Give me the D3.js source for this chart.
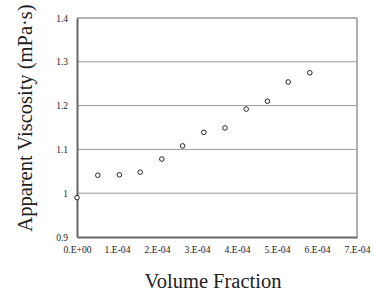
<html>
  <head>
    <meta charset="utf-8" />
    <script src="https://d3js.org/d3.v7.min.js"></script>
    <style>
      body { margin: 0; background: #fff; }
      svg text { font-family: "Liberation Serif", "Times New Roman", serif; fill: #222; }
    </style>
  </head>
  <body>
    <svg id="chart"></svg>
    <script>
      var fractions = [0, 0.52e-4, 1.06e-4, 1.58e-4, 2.12e-4, 2.64e-4, 3.17e-4, 3.7e-4, 4.23e-4, 4.76e-4, 5.28e-4, 5.82e-4];
      var viscosity = [0.99, 1.041, 1.042, 1.048, 1.078, 1.108, 1.139, 1.149, 1.192, 1.21, 1.254, 1.275];
      var xTicks = [0, 1e-4, 2e-4, 3e-4, 4e-4, 5e-4, 6e-4, 7e-4];
      var xTickLabels = ["0.E+00", "1.E-04", "2.E-04", "3.E-04", "4.E-04", "5.E-04", "6.E-04", "7.E-04"];
      var yTicks = [0.9, 1, 1.1, 1.2, 1.3, 1.4];
      var yTickLabels = ["0.9", "1", "1.1", "1.2", "1.3", "1.4"];

      var width = 374, height = 296;
      var margin = { top: 18, right: 17, bottom: 59, left: 77 };

      var svg = d3.select("#chart").attr("width", width).attr("height", height);

      var x = d3.scaleLinear().domain([0, 7e-4]).range([margin.left, width - margin.right]);
      var y = d3.scaleLinear().domain([0.9, 1.4]).range([height - margin.bottom, margin.top]);

      // gridlines
      svg.append("g").selectAll("line")
        .data(yTicks.slice(1))
        .enter().append("line")
          .attr("x1", x(0)).attr("x2", x(7e-4))
          .attr("y1", function(d) { return y(d); })
          .attr("y2", function(d) { return y(d); })
          .attr("stroke", function(d) { return d === 1.4 ? "#666" : "#999"; })
          .attr("stroke-width", 1);

      // right border
      svg.append("line")
        .attr("x1", x(7e-4)).attr("x2", x(7e-4))
        .attr("y1", y(1.4)).attr("y2", y(0.9))
        .attr("stroke", "#999").attr("stroke-width", 1.5);

      // y axis
      var yAxis = d3.axisLeft(y).tickValues(yTicks).tickSize(0).tickPadding(9)
        .tickFormat(function(d, i) { return yTickLabels[i]; });
      var gy = svg.append("g")
        .attr("transform", "translate(" + x(0) + ",0)")
        .call(yAxis);
      gy.attr("font-family", null);
      gy.select(".domain").attr("stroke", "#666").attr("stroke-width", 2);
      gy.selectAll("text").attr("font-size", 9.5).style("fill", "#222");

      // x axis
      var xAxis = d3.axisBottom(x).tickValues(xTicks).tickSize(0).tickPadding(9)
        .tickFormat(function(d, i) { return xTickLabels[i]; });
      var gx = svg.append("g")
        .attr("transform", "translate(0," + y(0.9) + ")")
        .call(xAxis);
      gx.attr("font-family", null);
      gx.select(".domain").attr("stroke", "#666").attr("stroke-width", 2);
      gx.selectAll("text").attr("font-size", 9.6).style("fill", "#222");

      // points
      svg.append("g").selectAll("circle")
        .data(fractions)
        .enter().append("circle")
          .attr("cx", function(d) { return x(d); })
          .attr("cy", function(d, i) { return y(viscosity[i]); })
          .attr("r", 2.3)
          .attr("fill", "#fff")
          .attr("stroke", "#111")
          .attr("stroke-width", 0.9);

      // titles
      svg.append("text")
        .attr("transform", "translate(27,118) rotate(-90)")
        .attr("text-anchor", "middle")
        .attr("dominant-baseline", "middle")
        .attr("font-size", 20.5)
        .text("Apparent Viscosity (mPa·s)");

      svg.append("text")
        .attr("x", 213).attr("y", 288)
        .attr("text-anchor", "middle")
        .attr("font-size", 20.5)
        .text("Volume Fraction");
    </script>
  </body>
</html>
